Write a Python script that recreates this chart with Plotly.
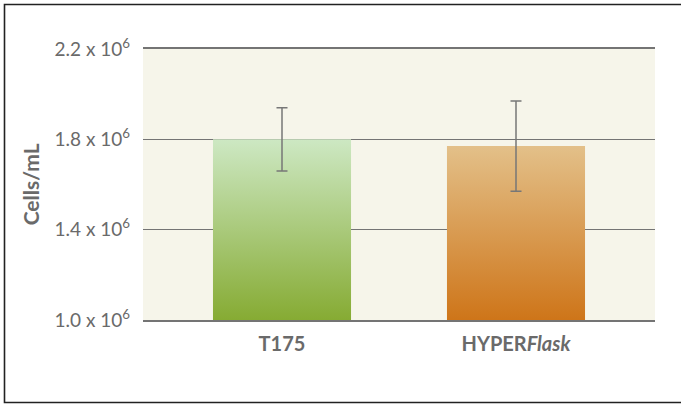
import plotly.graph_objects as go

categories = ["T175", "HYPERFlask"]
tick_labels_x = ["<b>T175</b>", "<b>HYPER<i>Flask</i></b>"]
means = [1.80, 1.77]
errors = [0.14, 0.20]
y_ticks = [1.0, 1.4, 1.8, 2.2]
y_tick_labels = ["1.0 x 10<sup>6</sup>", "1.4 x 10<sup>6</sup>", "1.8 x 10<sup>6</sup>", "2.2 x 10<sup>6</sup>"]
bar_top_colors = ["#cde8c3", "#e3c089"]
bar_bottom_colors = ["#86ab33", "#ce7519"]

BASE = 1.0
BAR_W = 0.59
TEXT = "#6a6a6a"
GRID = "#747474"
FONT = "Lato, 'Open Sans', sans-serif"

fig = go.Figure()
xs = list(range(len(categories)))
for i, (m, c_top, c_bot) in enumerate(zip(means, bar_top_colors, bar_bottom_colors)):
    x0, x1 = xs[i] - BAR_W / 2, xs[i] + BAR_W / 2
    fig.add_trace(go.Scatter(
        x=[x0, x1, x1, x0, x0], y=[BASE, BASE, m, m, BASE],
        mode="lines", line=dict(width=0), fill="toself",
        fillgradient=dict(type="vertical", colorscale=[[0, c_bot], [1, c_top]]),
        hoverinfo="skip", showlegend=False, name=categories[i],
    ))

fig.add_trace(go.Scatter(
    x=xs, y=means, mode="markers", marker=dict(size=1, opacity=0),
    error_y=dict(type="data", array=errors, visible=True, color="#777777", thickness=1.5, width=5.5),
    showlegend=False, hoverinfo="skip",
))

fig.update_layout(
    width=681, height=404,
    margin=dict(l=143, r=26, t=49, b=84),
    paper_bgcolor="white", plot_bgcolor="#f6f5ea",
    font=dict(family=FONT, color=TEXT, size=18),
    xaxis=dict(range=[-0.594, 1.594], tickvals=xs, ticktext=tick_labels_x,
               showgrid=False, zeroline=False, ticks="", tickfont=dict(size=20, color=TEXT),
               showline=True, mirror=True, linecolor=GRID, linewidth=1.5,
               ticklabelstandoff=5),
    yaxis=dict(range=[1.0, 2.2], tickvals=y_ticks, ticktext=y_tick_labels,
               showgrid=True, gridcolor=GRID, gridwidth=1.4, zeroline=False,
               ticks="", ticklabelstandoff=12, tickfont=dict(size=19, color=TEXT)),
    annotations=[dict(text="<b>Cells/mL</b>", xref="paper", yref="paper",
                      x=-0.219, y=0.5, textangle=-90, showarrow=False,
                      font=dict(size=21, color=TEXT), xanchor="center", yanchor="middle")],
    shapes=[dict(type="rect", xref="paper", yref="paper",
                 x0=(4.5 - 143) / 512, x1=(690 - 143) / 512,
                 y0=(320 - 402.5) / 271, y1=(320 - 4.5) / 271,
                 line=dict(color="#222222", width=1.6), layer="above")],
)

fig.write_html("out.html", config={"displayModeBar": False},
               post_script="document.body.style.margin='0';")
